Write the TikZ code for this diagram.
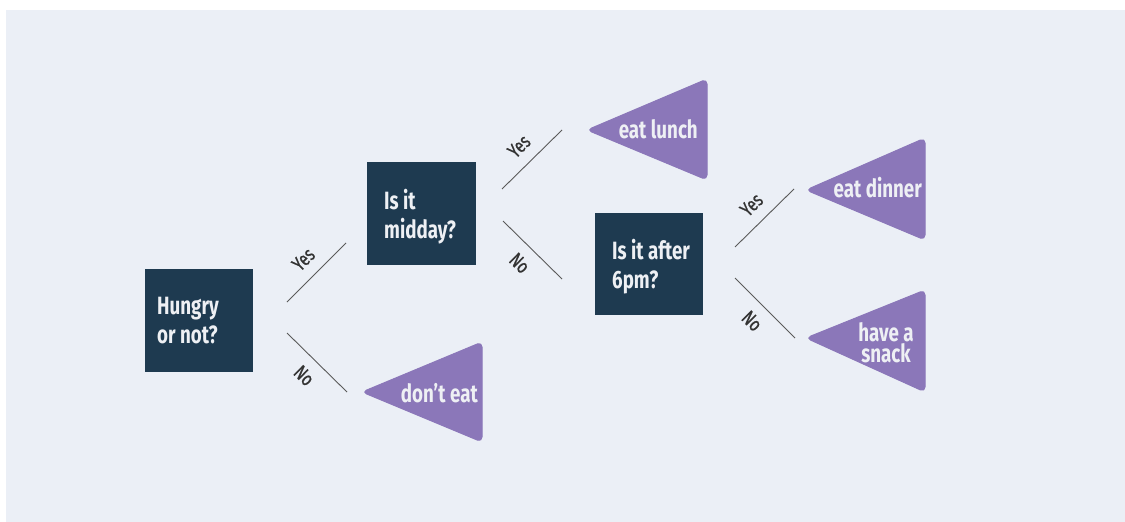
\documentclass[tikz,border=0pt]{standalone}
\usepackage{fontspec}
\setmainfont{Fira Sans}[FakeStretch=0.75]
\newfontfamily\lblfont{Fira Sans}[FakeStretch=0.75, FakeBold=0.8]
\definecolor{bgpanel}{HTML}{EBEFF6}
\definecolor{navy}{HTML}{1E3A50}
\definecolor{lilac}{HTML}{8B77B9}
\definecolor{linegray}{HTML}{5A5A5A}
\definecolor{labelgray}{HTML}{333333}
\definecolor{txtwhite}{HTML}{EEF0F4}
\tikzset{
  qbox/.style={fill=navy, draw=none, inner sep=0pt},
  qtext/.style={text=txtwhite, inner sep=0pt, align=left, anchor=base west,
    font=\fontsize{25}{29}\selectfont\bfseries},
  tri/.style={fill=lilac, draw=lilac, line width=1pt, rounded corners=5pt, line join=round},
  tritext/.style={text=txtwhite, inner sep=0pt, font=\fontsize{25}{20.5}\selectfont\bfseries},
  branch/.style={draw=linegray, line width=0.9pt},
  lbl/.style={text=labelgray, inner sep=1pt, font=\lblfont\fontsize{20}{20}\selectfont}
}
\begin{document}
\begin{tikzpicture}[x=1pt,y=-1pt]
\useasboundingbox (0,0) rectangle (1125,522);
\fill[white] (0,0) rectangle (1125,522);
\fill[bgpanel] (6,10) rectangle (1125,522);

% question boxes
\node[qbox, minimum width=108pt, minimum height=103pt] (hungry) at (199,320.5) {};
\node[qtext] (hungrytxt) at (157,343) {Hungry\\or not?};
\node[qbox, minimum width=109pt, minimum height=103pt] (midday) at (421.5,213.5) {};
\node[qtext] (middaytxt) at (384,238) {Is it\\midday?};
\node[qbox, minimum width=108pt, minimum height=102pt] (after) at (649,264) {};
\node[qtext] (aftertxt) at (612,288) {Is it after\\6pm?};

% outcome triangles
\fill[tri] (587,130) -- (707,79) -- (707,180) -- cycle;
\node[tritext, anchor=base east] (lunch) at (698,138) {eat lunch};

\fill[tri] (362,392) -- (482,342) -- (482,442) -- cycle;
\node[tritext, anchor=base east] (donteat) at (478,402) {don't eat};

\fill[tri] (806,190) -- (925,138) -- (925,240) -- cycle;
\node[tritext, anchor=base east] (dinner) at (922,197) {eat dinner};

\fill[tri] (806,338) -- (925,290) -- (925,392) -- cycle;
\node[tritext, align=center, anchor=base] (snack) at (886,362) {have a\\snack};

% branch end points
\coordinate (y1a) at (287,302); \coordinate (y1b) at (346,243);
\coordinate (n1a) at (287,333); \coordinate (n1b) at (347,392);
\coordinate (y2a) at (502,189); \coordinate (y2b) at (562,130);
\coordinate (n2a) at (503,221); \coordinate (n2b) at (562,279);
\coordinate (y3a) at (735,247); \coordinate (y3b) at (794,189);
\coordinate (n3a) at (735,278); \coordinate (n3b) at (795,338);

% branches
\draw[branch] (y1a) -- node[lbl, pos=0.5, sloped, above=10pt] {Yes} (y1b);
\draw[branch] (n1a) -- node[lbl, pos=0.5, sloped, below=10pt] {No} (n1b);
\draw[branch] (y2a) -- node[lbl, pos=0.5, sloped, above=10pt] {Yes} (y2b);
\draw[branch] (n2a) -- node[lbl, pos=0.5, sloped, below=10pt] {No} (n2b);
\draw[branch] (y3a) -- node[lbl, pos=0.5, sloped, above=10pt] {Yes} (y3b);
\draw[branch] (n3a) -- node[lbl, pos=0.5, sloped, below=10pt] {No} (n3b);
\end{tikzpicture}
\end{document}
